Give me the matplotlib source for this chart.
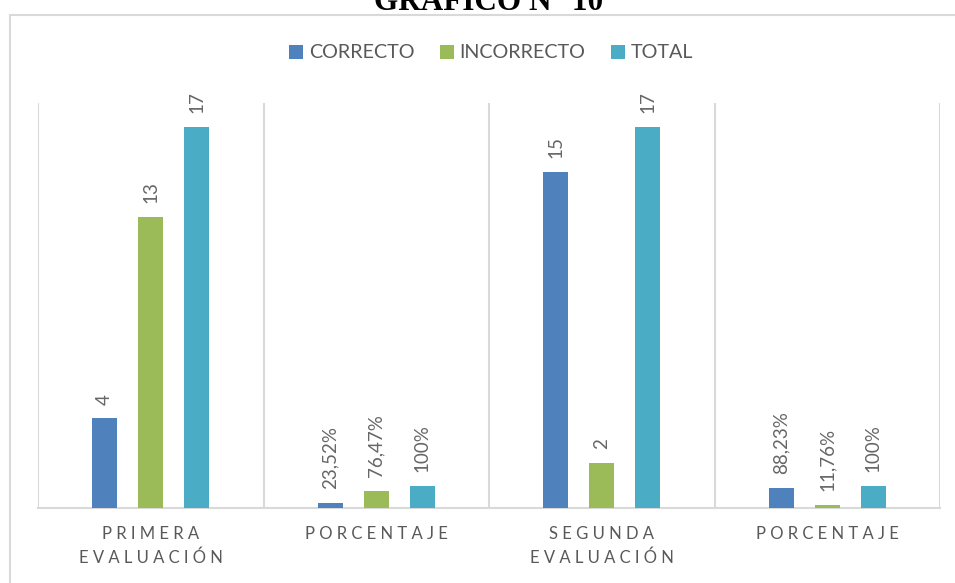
import matplotlib
matplotlib.use("Agg")
import matplotlib.pyplot as plt
import matplotlib.patches as mpatches
import numpy as np

# data
categorias = ["P R I M E R A\nE V A L U A C I Ó N", "P O R C E N T A J E",
              "S E G U N D A\nE V A L U A C I Ó N", "P O R C E N T A J E"]
correcto = [4, 0.2352, 15, 0.8823]
incorrecto = [13, 0.7647, 2, 0.1176]
total = [17, 1, 17, 1]
correcto_lbl = ["4", "23,52%", "15", "88,23%"]
incorrecto_lbl = ["13", "76,47%", "2", "11,76%"]
total_lbl = ["17", "100%", "17", "100%"]

AZUL = "#4F81BD"
VERDE = "#9BBB59"
TURQ = "#4BACC6"
GRIS_TXT = "#595959"
GRIS_LIN = "#D9D9D9"
FONT = "Lato"

plt.rcParams.update({"font.family": [FONT, "DejaVu Sans"]})

fig = plt.figure(figsize=(9.55, 5.83), dpi=100)
ax = fig.add_axes([38/955, 1 - 508/583, 902/955, 405/583])

x = np.arange(len(categorias))
off = 0.204
w = 0.11
series = [(correcto, correcto_lbl, AZUL, "CORRECTO", -off),
          (incorrecto, incorrecto_lbl, VERDE, "INCORRECTO", 0),
          (total, total_lbl, TURQ, "TOTAL", off)]

for vals, lbls, col, name, dx in series:
    bars = ax.bar(x + dx, vals, w, color=col, label=name, zorder=3)
    for b, t in zip(bars, lbls):
        ax.annotate(t, xy=(b.get_x() + b.get_width()/2, b.get_height()),
                    xytext=(0, 10), textcoords="offset points",
                    rotation=90, ha="center", va="bottom",
                    fontsize=13.5, color="#666666")

ax.set_xlim(-0.5, 3.5)
ax.set_ylim(0, 18.08)
for xv in np.arange(-0.5, 4.0, 1.0):
    ax.axvline(xv, color=GRIS_LIN, lw=1.5, zorder=1)
for s in ["top", "right", "left"]:
    ax.spines[s].set_visible(False)
ax.spines["bottom"].set_color(GRIS_LIN)
ax.spines["bottom"].set_linewidth(1.5)
ax.set_yticks([])
ax.set_xticks(x)
ax.set_xticklabels(categorias, fontsize=12, color=GRIS_TXT, linespacing=1.55)
ax.tick_params(axis="x", length=0, pad=13)

fig.legend(loc="center", bbox_to_anchor=(491/955, 1 - 53/583), ncol=3,
           frameon=False, fontsize=14.2, handlelength=0.7, handleheight=0.7,
           handletextpad=0.3, columnspacing=1.3, labelcolor=GRIS_TXT)

# borde del area del grafico
fig.add_artist(mpatches.Rectangle((10/955, -0.1), 1.0, 1 - 15/583 + 0.1,
                                  transform=fig.transFigure, fill=False,
                                  edgecolor=GRIS_LIN, lw=1.5))

fig.text(489/955, 1 - 10/583, "GRAFICO N° 10", ha="center", va="baseline",
         fontsize=22.5, fontweight="bold", family="Liberation Serif", color="black")

plt.savefig("out.png", dpi=100)
plt.close()
